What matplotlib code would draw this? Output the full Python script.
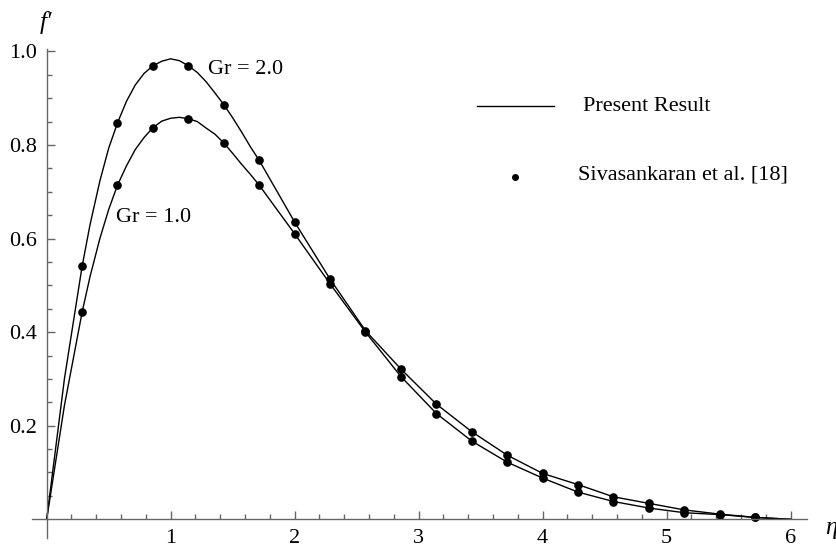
import matplotlib
matplotlib.use('Agg')
import matplotlib.pyplot as plt
from matplotlib.lines import Line2D
from matplotlib.ticker import FixedLocator

# pontos (Sivasankaran et al.)
eta_pts = [0.286, 0.571, 0.857, 1.143, 1.429, 1.714, 2.0, 2.286, 2.571, 2.857,
           3.143, 3.429, 3.714, 4.0, 4.286, 4.571, 4.857, 5.143, 5.429, 5.714]
gr2_pts = [0.541, 0.847, 0.969, 0.969, 0.886, 0.767, 0.635, 0.513, 0.403, 0.321,
           0.246, 0.187, 0.137, 0.098, 0.074, 0.048, 0.034, 0.020, 0.011, 0.004]
gr1_pts = [0.443, 0.714, 0.837, 0.856, 0.804, 0.714, 0.610, 0.503, 0.400, 0.305,
           0.226, 0.167, 0.122, 0.088, 0.058, 0.038, 0.024, 0.014, 0.010, 0.004]

# curvas (present result)
eta_line = [0.0, 0.143, 0.286, 0.35, 0.429, 0.5, 0.571, 0.643, 0.714, 0.786, 0.857,
            0.929, 1.0, 1.071, 1.143, 1.214, 1.286, 1.357, 1.429, 1.5, 1.571, 1.643,
            1.714, 2.0, 2.286, 2.571, 2.857, 3.143, 3.429, 3.714, 4.0, 4.286,
            4.571, 4.857, 5.143, 5.429, 5.714, 6.0]
gr2_line = [0.0, 0.30, 0.541, 0.630, 0.723, 0.793, 0.847, 0.893, 0.928, 0.953, 0.969,
            0.979, 0.984, 0.980, 0.969, 0.955, 0.935, 0.911, 0.886, 0.858, 0.828, 0.796,
            0.767, 0.635, 0.513, 0.403, 0.321, 0.246, 0.187, 0.137, 0.098, 0.074,
            0.048, 0.034, 0.020, 0.011, 0.004, 0.0]
gr1_line = [0.0, 0.243, 0.443, 0.519, 0.600, 0.662, 0.714, 0.755, 0.790, 0.816, 0.837,
            0.851, 0.857, 0.859, 0.856, 0.850, 0.836, 0.823, 0.804, 0.782, 0.759, 0.737,
            0.714, 0.610, 0.503, 0.400, 0.305, 0.226, 0.167, 0.122, 0.088, 0.058,
            0.038, 0.024, 0.014, 0.010, 0.004, 0.0]

x_major = [1, 2, 3, 4, 5, 6]
x_minor = [i / 5 for i in range(1, 30) if i % 5 != 0]
y_major = [0.2, 0.4, 0.6, 0.8, 1.0]
y_minor = [i / 20 for i in range(1, 20) if i % 4 != 0]

serif = ['Liberation Serif', 'DejaVu Serif']
plt.rcParams['font.family'] = serif
axis_color = '#666666'

W, H = 836, 556
fig = plt.figure(figsize=(W / 100, H / 100), dpi=100)
ax = fig.add_axes([31.8 / W, 18 / H, 775 / W, 489 / H])

ax.plot(eta_line, gr2_line, color='black', lw=1.0)
ax.plot(eta_line, gr1_line, color='black', lw=1.0)
ax.plot(eta_pts, gr2_pts, 'o', color='black', ms=5.2)
ax.plot(eta_pts, gr1_pts, 'o', color='black', ms=5.2)

ax.set_xlim(-0.12, 6.13)
ax.set_ylim(-0.04, 1.005)

for s in ['top', 'right']:
    ax.spines[s].set_visible(False)
ax.spines['left'].set_position(('data', 0))
ax.spines['bottom'].set_position(('data', 0))
for s in ['left', 'bottom']:
    ax.spines[s].set_color(axis_color)
    ax.spines[s].set_linewidth(1.0)

ax.xaxis.set_major_locator(FixedLocator(x_major))
ax.xaxis.set_minor_locator(FixedLocator(x_minor))
ax.yaxis.set_major_locator(FixedLocator(y_major))
ax.yaxis.set_minor_locator(FixedLocator(y_minor))
ax.set_xticklabels([str(v) for v in x_major])
ax.set_yticklabels(['%.1f' % v for v in y_major])

ax.tick_params(which='both', direction='in', color=axis_color, width=1.0, labelsize=16)
ax.tick_params(which='major', length=6)
ax.tick_params(which='minor', length=3.5)
ax.tick_params(axis='x', which='major', pad=7)
ax.tick_params(axis='y', which='major', pad=7)

fig.text(208 / W, 1 - 70 / H, 'Gr = 2.0', fontsize=16, va='center', ha='left')
fig.text(116 / W, 1 - 217 / H, 'Gr = 1.0', fontsize=16, va='center', ha='left')

# legenda manual
fig.add_artist(Line2D([477 / W, 554 / W], [1 - 106 / H, 1 - 106 / H], color='black', lw=1.0))
fig.text(583 / W, 1 - 106.7 / H, 'Present Result', fontsize=16, va='center', ha='left')
fig.add_artist(Line2D([515 / W], [1 - 176.7 / H], marker='o', color='black', ms=4))
fig.text(577.7 / W, 1 - 175 / H, 'Sivasankaran et al. [18]', fontsize=16, va='center', ha='left')

fig.text(46 / W, 1 - 22 / H, 'f\u2032', fontsize=18, style='italic', va='center', ha='center')
fig.text(831 / W, 1 - 528 / H, '\u03b7', fontsize=18, style='italic', va='center', ha='center')

fig.savefig('out.png', dpi=100)
